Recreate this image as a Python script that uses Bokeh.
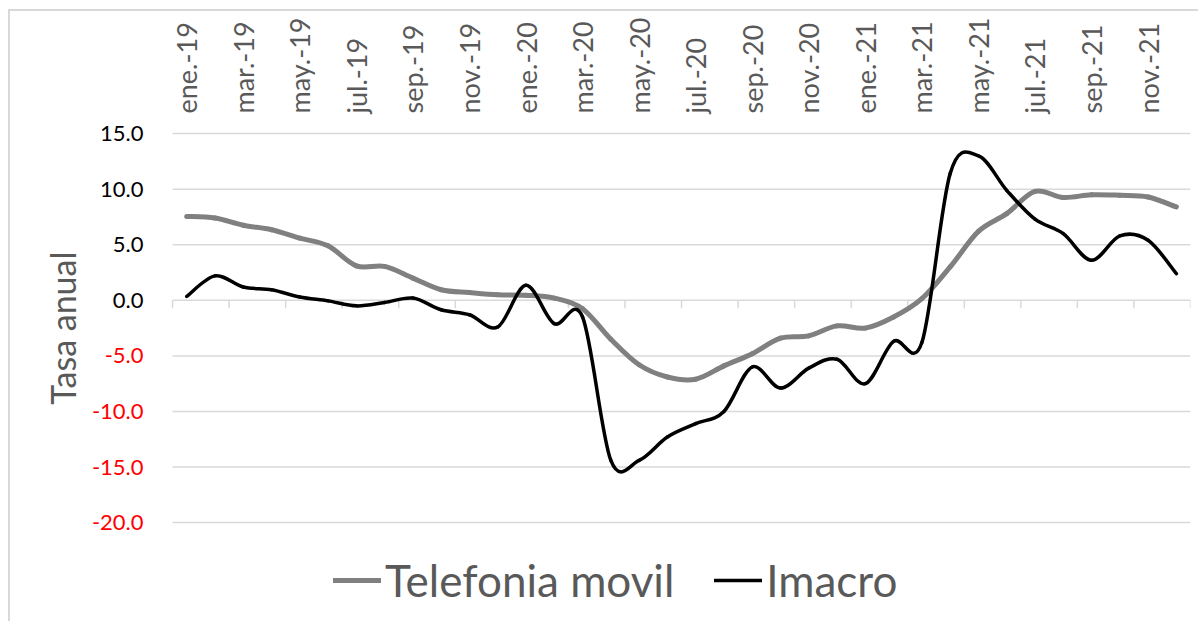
import numpy as np
from bokeh.plotting import figure
from bokeh.models import Range1d, FixedTicker, Legend, LegendItem
from bokeh.core.properties import value
from bokeh.embed import file_html
from bokeh.resources import INLINE

# ---------------- data ----------------
months = ["ene.-19", "feb.-19", "mar.-19", "abr.-19", "may.-19", "jun.-19",
          "jul.-19", "ago.-19", "sep.-19", "oct.-19", "nov.-19", "dic.-19",
          "ene.-20", "feb.-20", "mar.-20", "abr.-20", "may.-20", "jun.-20",
          "jul.-20", "ago.-20", "sep.-20", "oct.-20", "nov.-20", "dic.-20",
          "ene.-21", "feb.-21", "mar.-21", "abr.-21", "may.-21", "jun.-21",
          "jul.-21", "ago.-21", "sep.-21", "oct.-21", "nov.-21", "dic.-21"]

telefonia_movil = [7.55, 7.4, 6.75, 6.35, 5.6, 4.9, 3.1, 3.05, 2.0, 0.95, 0.7, 0.5,
                   0.45, 0.2, -0.75, -3.5, -5.8, -6.9, -7.1, -5.9, -4.8, -3.4, -3.2, -2.3,
                   -2.5, -1.5, 0.15, 3.0, 6.2, 7.8, 9.8, 9.25, 9.5, 9.45, 9.3, 8.4]

imacro = [0.35, 2.2, 1.2, 0.95, 0.3, -0.05, -0.5, -0.2, 0.2, -0.85, -1.3, -2.4,
          1.35, -2.1, -1.5, -14.4, -14.4, -12.3, -11.1, -10.0, -6.0, -7.9, -6.1, -5.3,
          -7.5, -3.7, -3.8, 11.4, 13.0, 9.9, 7.3, 6.0, 3.6, 5.8, 5.4, 2.4]

y_ticks = [15, 10, 5, 0, -5, -10, -15, -20]
y_tick_labels = ["15.0", "10.0", "5.0", "0.0", "-5.0", "-10.0", "-15.0", "-20.0"]

series_names = ["Telefonia movil", "Imacro"]
y_title = "Tasa anual"

FONT = "Lato"
GRID = "#d9d9d9"
TXT = "#595959"

n = len(months)
xs = np.arange(n, dtype=float)


def smooth_controls(x, y):
    """Catmull-Rom style Bezier control points (like a spreadsheet's smoothed line)."""
    x = np.asarray(x, float)
    y = np.asarray(y, float)
    xp = np.concatenate([[x[0]], x, [x[-1]]])
    yp = np.concatenate([[y[0]], y, [y[-1]]])
    x0, y0 = x[:-1], y[:-1]
    x1, y1 = x[1:], y[1:]
    cx0 = x0 + (xp[2:-1] - xp[:-3]) / 6.0
    cy0 = y0 + (yp[2:-1] - yp[:-3]) / 6.0
    cx1 = x1 - (xp[3:] - xp[1:-2]) / 6.0
    cy1 = y1 - (yp[3:] - yp[1:-2]) / 6.0
    return dict(x0=x0, y0=y0, x1=x1, y1=y1, cx0=cx0, cy0=cy0, cx1=cx1, cy1=cy1)


# frame extended left/bottom/top so that tick texts, title and legend are not clipped
p = figure(width=1190, height=612,
           x_range=Range1d(-5.17, n - 0.5), y_range=Range1d(-29.08, 16),
           x_axis_location="above",
           output_backend="svg", toolbar_location=None,
           min_border_left=30, min_border_right=10,
           min_border_top=111, min_border_bottom=0)
p.styles = {"margin-left": "8px", "margin-top": "9px",
            "border-top": "2px solid #d9d9d9", "border-left": "2px solid #d9d9d9"}
p.outline_line_color = None
p.background_fill_color = "white"
p.border_fill_color = "white"
p.xgrid.visible = False
p.ygrid.visible = False
p.yaxis.visible = False

# horizontal grid lines across the category area
p.segment(x0=np.full(len(y_ticks), -0.5), x1=np.full(len(y_ticks), n - 0.5),
          y0=y_ticks, y1=y_ticks, line_color=GRID, line_width=1.5)

# category tick marks on the zero line (every 2 categories)
bounds = np.arange(-0.5, n, 2.0)
p.segment(x0=bounds, y0=np.zeros_like(bounds), x1=bounds, y1=np.full_like(bounds, -0.72),
          line_color=GRID, line_width=1.5)

# y tick labels: black for >= 0, red for < 0
colors = ["#000000" if v >= 0 else "#ff0000" for v in y_ticks]
p.text(x=np.full(len(y_ticks), -0.5), y=y_ticks, text=y_tick_labels, text_color=colors,
       x_offset=-29, text_align="right", text_baseline="middle",
       text_font=value(FONT), text_font_size="22px")

# y axis title
p.text(x=[-0.5], y=[(max(y_ticks) + min(y_ticks)) / 2], text=[y_title],
       x_offset=-110, angle=np.pi / 2, text_align="center", text_baseline="middle",
       text_font=value(FONT), text_font_size="34px", text_color=TXT)

# top axis with month labels
p.xaxis.ticker = FixedTicker(ticks=list(range(0, n, 2)))
p.xaxis.major_label_overrides = {i: months[i] for i in range(0, n, 2)}
p.xaxis.major_label_orientation = np.pi / 2
p.xaxis.major_label_text_font = FONT
p.xaxis.major_label_text_font_size = "27px"
p.xaxis.major_label_text_color = TXT
p.xaxis.axis_line_color = None
p.xaxis.major_tick_line_color = None
p.xaxis.minor_tick_line_color = None
p.xaxis.major_label_standoff = 3

# series
r1 = p.bezier(**smooth_controls(xs, telefonia_movil),
              line_color="#808080", line_width=5, line_cap="round")
r2 = p.bezier(**smooth_controls(xs, imacro),
              line_color="#000000", line_width=3.5, line_cap="round")

legend = Legend(items=[LegendItem(label=series_names[0], renderers=[r1]),
                       LegendItem(label=series_names[1], renderers=[r2])],
                orientation="horizontal", location=(293, 17),
                label_text_font=FONT, label_text_font_size="44px",
                label_text_color=TXT, glyph_width=48, glyph_height=30,
                spacing=40, label_standoff=4, padding=0, margin=0,
                background_fill_alpha=0, border_line_color=None)
p.add_layout(legend, "center")

open("out.html", "w").write(file_html(p, INLINE))
